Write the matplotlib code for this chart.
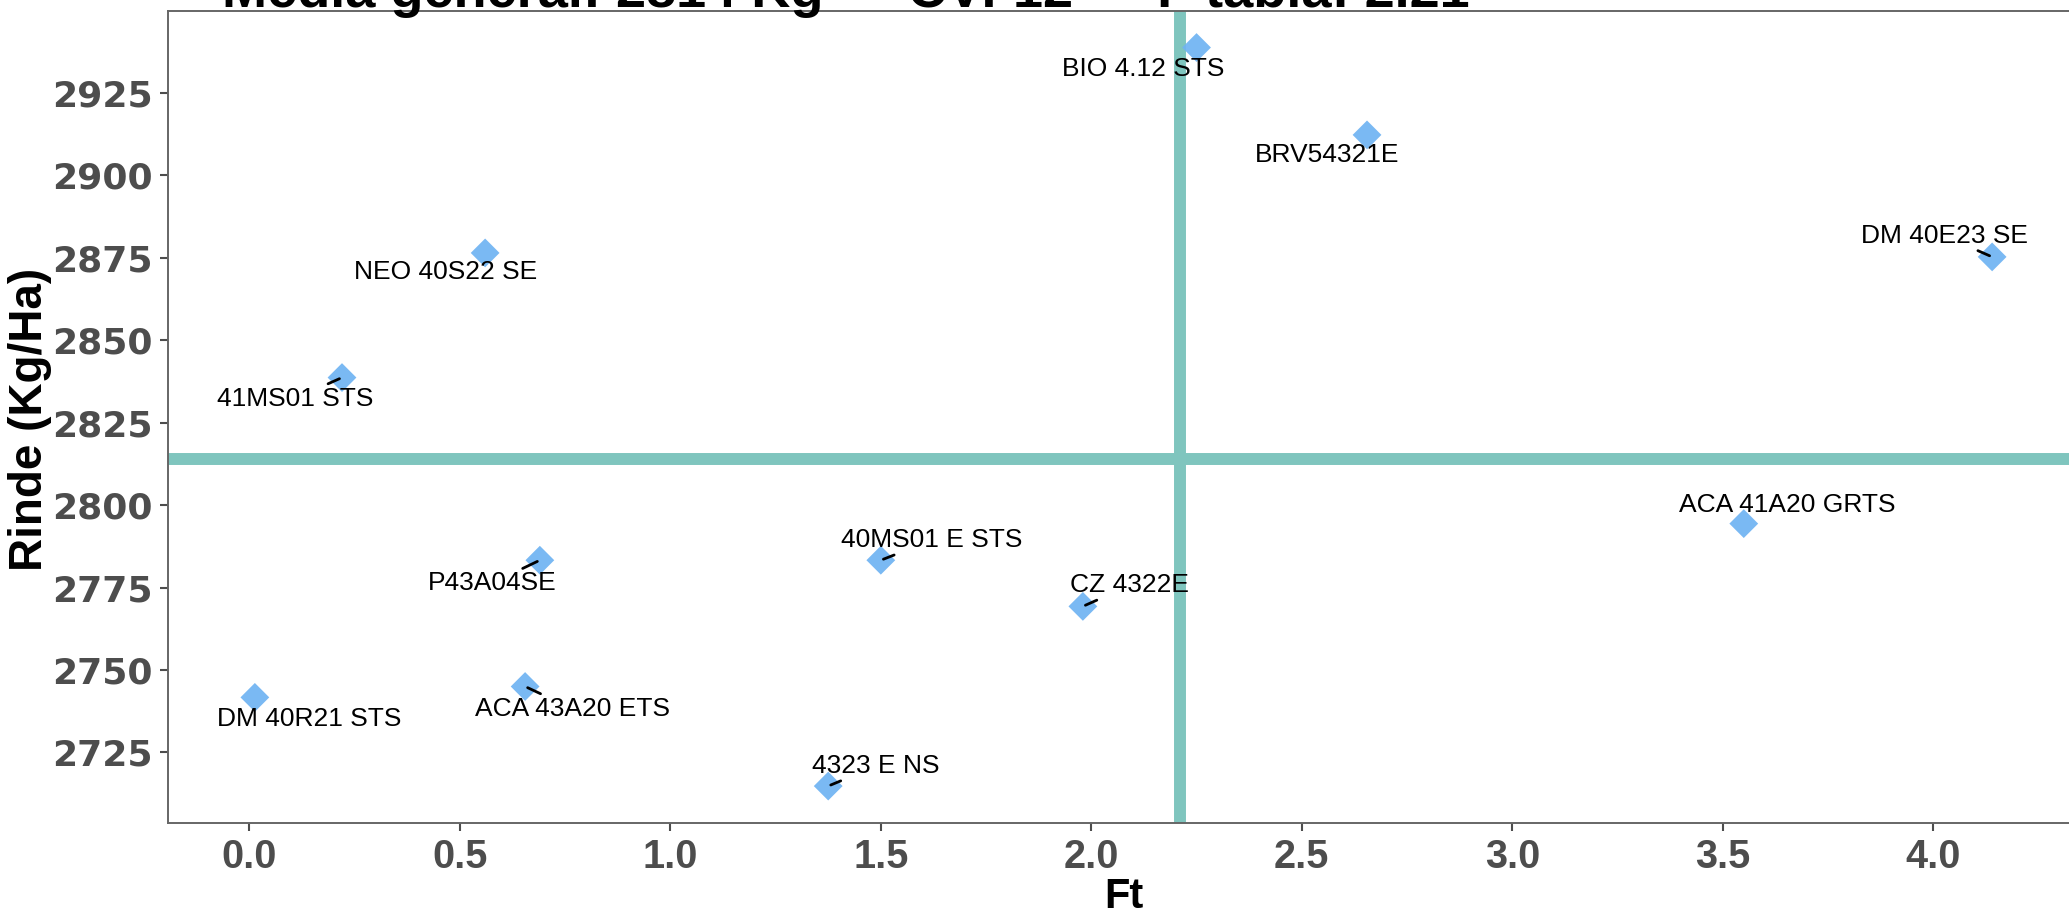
import matplotlib.pyplot as plt

# datos del ensayo
cultivares = ["BIO 4.12 STS", "BRV54321E", "DM 40E23 SE", "NEO 40S22 SE", "41MS01 STS",
              "ACA 41A20 GRTS", "40MS01 E STS", "CZ 4322E", "P43A04SE", "ACA 43A20 ETS",
              "DM 40R21 STS", "4323 E NS"]
ft = [2.25, 2.655, 4.14, 0.56, 0.22, 3.55, 1.50, 1.98, 0.69, 0.655, 0.013, 1.375]
rinde = [2938.8, 2912.3, 2875.3, 2876.5, 2838.7, 2794.4, 2783.3, 2769.3, 2783.3,
         2745.0, 2741.7, 2714.8]
media = 2814
cv = 12
f_tabla = 2.21
xticks = [0.0, 0.5, 1.0, 1.5, 2.0, 2.5, 3.0, 3.5, 4.0]
yticks = [2725, 2750, 2775, 2800, 2825, 2850, 2875, 2900, 2925]

# posicion de las etiquetas (pixeles) y si llevan segmento
desplaz = [(-53, -21), (-40, -20), (-48, 21), (-39, -19), (-47, -21), (43, 19),
           (51, 20), (47, 21), (-48, -23), (47, -22), (54, -22), (48, 20)]
segmento = [False, False, True, False, True, False, True, True, True, True, False, True]

plt.rcParams['font.family'] = ['Liberation Sans', 'DejaVu Sans']

fig = plt.figure(figsize=(20.69, 9.15), dpi=100)
ax = fig.add_axes([168 / 2069, 92 / 915, (2079 - 168) / 2069, (823 - 10.6) / 915])

ax.axhline(media, color="#7FC5BE", lw=8.6, zorder=1)
ax.axvline(f_tabla, color="#7FC5BE", lw=8.6, zorder=1)
ax.scatter(ft, rinde, marker="D", s=215, color="#6FB3F2", alpha=0.92,
           edgecolors="none", zorder=3)
ax.margins(x=0.05, y=0.05)

for nombre, x, y, (dx, dy), seg in zip(cultivares, ft, rinde, desplaz, segmento):
    props = dict(arrowstyle="-", color="black", lw=2, shrinkA=0, shrinkB=2) if seg else None
    ax.annotate(nombre, (x, y), xytext=(dx, dy), textcoords="offset pixels",
                ha="center", va="center", fontsize=19, color="black",
                arrowprops=props, zorder=4)

ax.set_xticks(xticks)
ax.set_xticklabels([f"{t:.1f}" for t in xticks], fontsize=28.5, fontweight="bold",
                   color="#4D4D4D")
ax.set_yticks(yticks)
ax.set_yticklabels([str(t) for t in yticks], fontsize=26, fontweight="bold",
                   color="#4D4D4D", family="DejaVu Sans")
ax.tick_params(length=6, width=1.5, color="#4D4D4D", pad=5)
for sp in ax.spines.values():
    sp.set_color("#666666")
    sp.set_linewidth(1.4)

fig.text(30 / 2069, 1 - 419 / 915, "Rinde (Kg/Ha)", rotation=90,
         ha="center", va="center", fontsize=33, fontweight="bold")
fig.text(1124 / 2069, 1 - 897 / 915, "Ft", ha="center", va="center",
         fontsize=30, fontweight="bold")
fig.text(846 / 2069, 1 - 7 / 915,
         f"Media general: {media} Kg \u2014 CV: {cv} \u2014 F tabla: {f_tabla}",
         ha="center", va="baseline", fontsize=39, fontweight="bold")

fig.savefig("out.png", dpi=100)
